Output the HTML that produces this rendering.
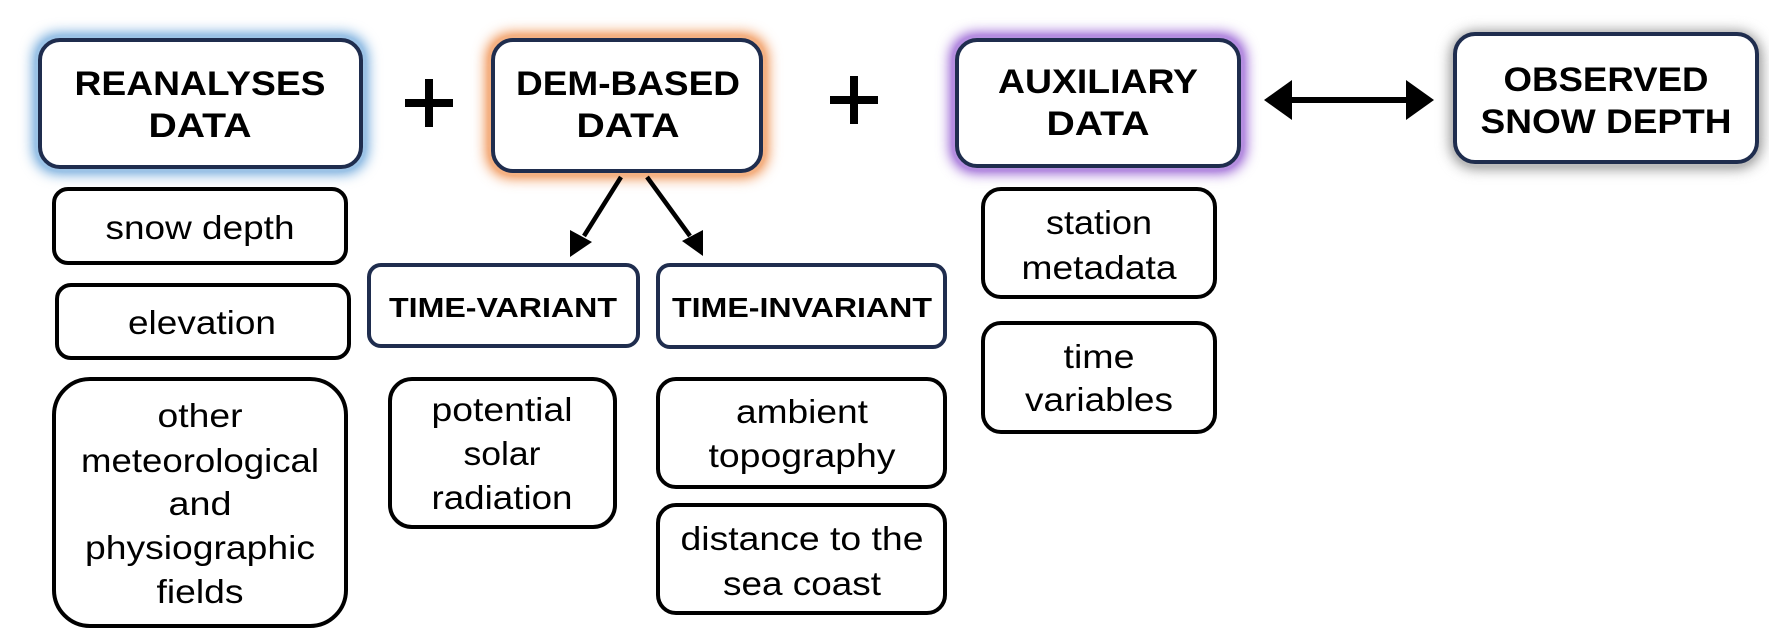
<!DOCTYPE html>
<html><head><meta charset="utf-8"><style>html,body{margin:0;padding:0;background:#fff}svg{display:block}</style></head><body>
<svg width="1769" height="640" viewBox="0 0 1769 640" xmlns="http://www.w3.org/2000/svg" font-family="Liberation Sans, Arial, sans-serif">
<defs>
<filter id="g" x="-20%" y="-30%" width="140%" height="160%"><feGaussianBlur stdDeviation="7"/><feComponentTransfer><feFuncA type="linear" slope="1.8"/></feComponentTransfer></filter>
</defs>
<rect width="1769" height="640" fill="#fff"/>
<!-- glows -->
<rect x="34" y="34" width="333" height="139" rx="24" fill="#9cc3e6" filter="url(#g)"/>
<rect x="487" y="34" width="280" height="143" rx="24" fill="#f4b183" filter="url(#g)"/>
<rect x="951" y="34" width="294" height="138" rx="24" fill="#b58ee0" filter="url(#g)"/>
<rect x="1451" y="32" width="310" height="136" rx="24" fill="#bbbbbb" filter="url(#g)"/>
<g fill="#fff" stroke="#1f2d4e" stroke-width="4">
<rect x="40" y="40" width="321" height="127" rx="20"/>
<rect x="493" y="40" width="268" height="131" rx="20"/>
<rect x="957" y="40" width="282" height="126" rx="20"/>
<rect x="1455" y="34" width="302" height="128" rx="20"/>
<rect x="369" y="265" width="269" height="81" rx="12"/>
<rect x="658" y="265" width="287" height="82" rx="12"/>
</g>
<g fill="#fff" stroke="#000" stroke-width="4">
<rect x="54" y="189" width="292" height="74" rx="14"/>
<rect x="57" y="285" width="292" height="73" rx="14"/>
<rect x="54" y="379" width="292" height="247" rx="36"/>
<rect x="390" y="379" width="225" height="148" rx="22"/>
<rect x="658" y="379" width="287" height="108" rx="18"/>
<rect x="658" y="505" width="287" height="108" rx="18"/>
<rect x="983" y="189" width="232" height="108" rx="18"/>
<rect x="983" y="323" width="232" height="109" rx="18"/>
</g>
<!-- plus signs -->
<g stroke="#000" stroke-width="8">
<line x1="405" y1="103" x2="453" y2="103"/><line x1="429" y1="79" x2="429" y2="127"/>
<line x1="830" y1="100" x2="878" y2="100"/><line x1="854" y1="76" x2="854" y2="124"/>
</g>
<!-- double arrow -->
<line x1="1290" y1="100" x2="1408" y2="100" stroke="#000" stroke-width="6"/>
<polygon points="1264,100 1292,80 1292,120" fill="#000"/>
<polygon points="1434,100 1406,80 1406,120" fill="#000"/>
<!-- diagonal arrows -->
<line x1="621" y1="177" x2="584" y2="236" stroke="#000" stroke-width="4.5"/>
<polygon points="570,257 570,230 592,242" fill="#000"/>
<line x1="647" y1="177" x2="690" y2="236" stroke="#000" stroke-width="4.5"/>
<polygon points="703,256 682,241 703,230" fill="#000"/>
<g font-weight="bold" text-anchor="middle" font-size="34" fill="#000">
<text x="200" y="95" textLength="251" lengthAdjust="spacingAndGlyphs">REANALYSES</text>
<text x="200" y="137" textLength="103" lengthAdjust="spacingAndGlyphs">DATA</text>
<text x="628" y="95" textLength="224" lengthAdjust="spacingAndGlyphs">DEM-BASED</text>
<text x="628" y="137" textLength="103" lengthAdjust="spacingAndGlyphs">DATA</text>
<text x="1098" y="93" textLength="200" lengthAdjust="spacingAndGlyphs">AUXILIARY</text>
<text x="1098" y="135" textLength="103" lengthAdjust="spacingAndGlyphs">DATA</text>
<text x="1606" y="91" textLength="205" lengthAdjust="spacingAndGlyphs">OBSERVED</text>
<text x="1606" y="133" textLength="251" lengthAdjust="spacingAndGlyphs">SNOW DEPTH</text>
<text x="503" y="317" font-size="28" textLength="228" lengthAdjust="spacingAndGlyphs">TIME-VARIANT</text>
<text x="802" y="317" font-size="28" textLength="260" lengthAdjust="spacingAndGlyphs">TIME-INVARIANT</text>
</g>
<g text-anchor="middle" font-size="33" fill="#000">
<text x="200" y="239" textLength="189" lengthAdjust="spacingAndGlyphs">snow depth</text>
<text x="202" y="334" textLength="148" lengthAdjust="spacingAndGlyphs">elevation</text>
<text x="200" y="427" textLength="85" lengthAdjust="spacingAndGlyphs">other</text>
<text x="200" y="472" textLength="238" lengthAdjust="spacingAndGlyphs">meteorological</text>
<text x="200" y="515" textLength="63" lengthAdjust="spacingAndGlyphs">and</text>
<text x="200" y="559" textLength="230" lengthAdjust="spacingAndGlyphs">physiographic</text>
<text x="200" y="603" textLength="87" lengthAdjust="spacingAndGlyphs">fields</text>
<text x="502" y="421" textLength="141" lengthAdjust="spacingAndGlyphs">potential</text>
<text x="502" y="465" textLength="77" lengthAdjust="spacingAndGlyphs">solar</text>
<text x="502" y="509" textLength="141" lengthAdjust="spacingAndGlyphs">radiation</text>
<text x="802" y="423" textLength="132" lengthAdjust="spacingAndGlyphs">ambient</text>
<text x="802" y="467" textLength="187" lengthAdjust="spacingAndGlyphs">topography</text>
<text x="802" y="550" textLength="243" lengthAdjust="spacingAndGlyphs">distance to the</text>
<text x="802" y="595" textLength="158" lengthAdjust="spacingAndGlyphs">sea coast</text>
<text x="1099" y="234" textLength="106" lengthAdjust="spacingAndGlyphs">station</text>
<text x="1099" y="279" textLength="155" lengthAdjust="spacingAndGlyphs">metadata</text>
<text x="1099" y="368" textLength="71" lengthAdjust="spacingAndGlyphs">time</text>
<text x="1099" y="411" textLength="148" lengthAdjust="spacingAndGlyphs">variables</text>
</g>
</svg>
</body></html>
